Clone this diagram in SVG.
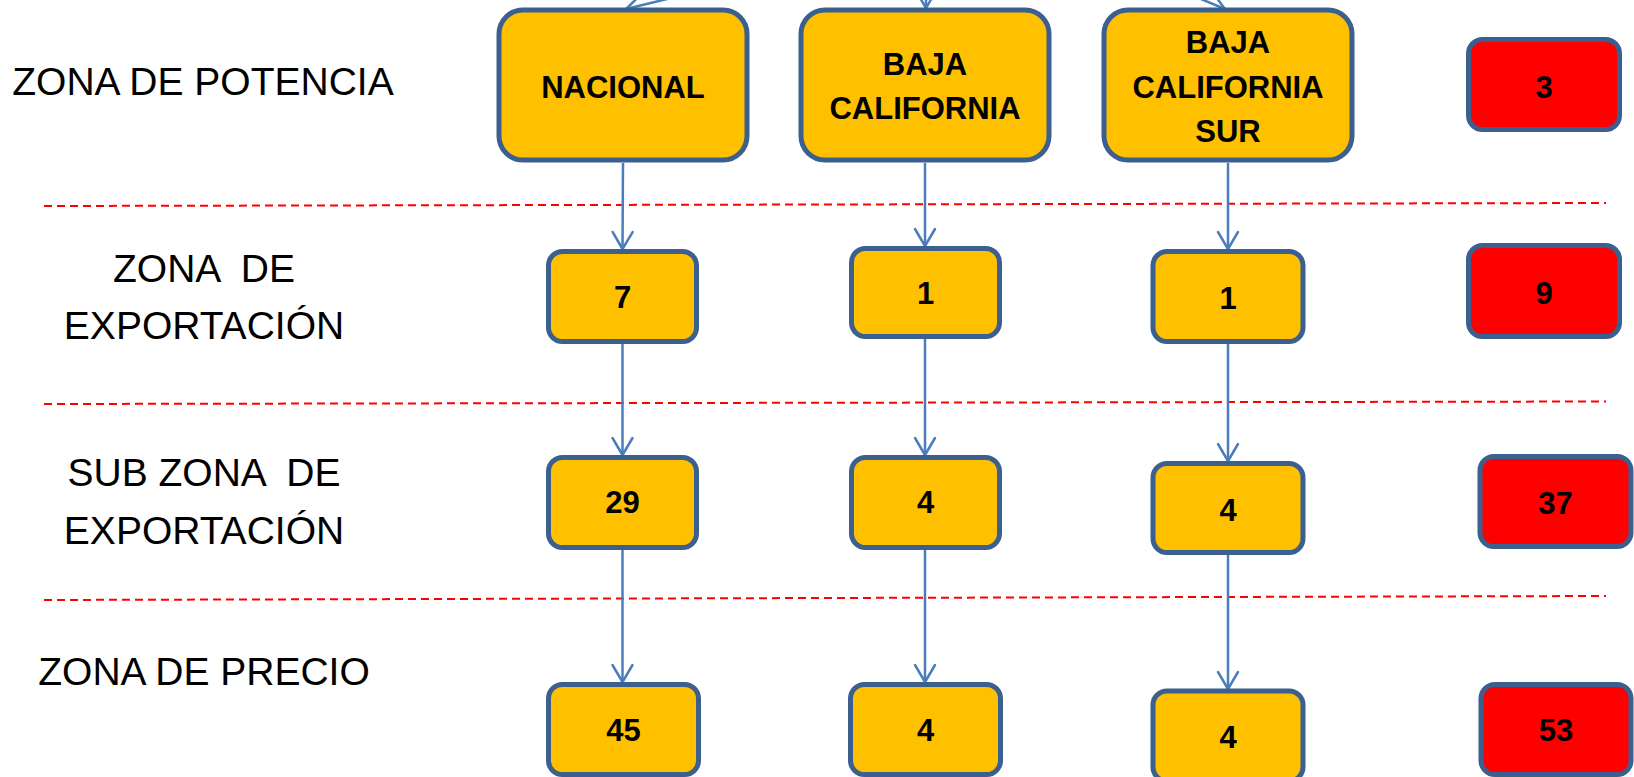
<svg xmlns="http://www.w3.org/2000/svg" width="1634" height="777" viewBox="0 0 1634 777">
<style>
.lbl{font-family:"Liberation Sans",Arial,sans-serif;font-size:39px;fill:#000;text-anchor:middle;white-space:pre}
.nt{font-family:"Liberation Sans",Arial,sans-serif;font-size:31px;font-weight:bold;fill:#000;text-anchor:middle}
.o{fill:#FFC000;stroke:#3B5F8E;stroke-width:5}
.r{fill:#FF0000;stroke:#3B5F8E;stroke-width:5}
.c{stroke:#4A7EBB;stroke-width:2.5;fill:none;marker-end:url(#arr)}
.d{stroke:#FF0000;stroke-width:2;stroke-dasharray:8 5;fill:none}
</style>
<defs>
<marker id="arr" markerUnits="userSpaceOnUse" markerWidth="22" markerHeight="24" viewBox="0 0 22 24" refX="19" refY="12" orient="auto" overflow="visible">
<path d="M2,2 L19,12 L2,22" fill="none" stroke="#4A7EBB" stroke-width="2.5" stroke-linecap="round" stroke-linejoin="round"/>
</marker>
</defs>
<rect width="1634" height="777" fill="#fff"/>
<g id="separators">
<line class="d" x1="44" y1="206" x2="1606" y2="203"/>
<line class="d" x1="44" y1="404" x2="1606" y2="401.5"/>
<line class="d" x1="44" y1="600" x2="1606" y2="596"/>
</g>
<g id="labels">
<text class="lbl" x="203" y="95">ZONA DE POTENCIA</text>
<text class="lbl" x="204" y="282">ZONA  DE</text>
<text class="lbl" x="204" y="339">EXPORTACIÓN</text>
<text class="lbl" x="204" y="486">SUB ZONA  DE</text>
<text class="lbl" x="204" y="544">EXPORTACIÓN</text>
<text class="lbl" x="204" y="685">ZONA DE PRECIO</text>
</g>
<g id="connectors">
<line class="c" x1="700" y1="-9" x2="626" y2="9"/>
<line class="c" x1="926" y1="-30" x2="926" y2="8"/>
<line class="c" x1="1160" y1="-18" x2="1225" y2="9"/>
<line class="c" x1="623" y1="163" x2="622.5" y2="249"/>
<line class="c" x1="622.5" y1="344" x2="622.5" y2="455"/>
<line class="c" x1="622.5" y1="549" x2="622.5" y2="682"/>
<line class="c" x1="925" y1="163" x2="925" y2="246"/>
<line class="c" x1="925" y1="338" x2="925" y2="455"/>
<line class="c" x1="925" y1="549" x2="925" y2="682"/>
<line class="c" x1="1228" y1="163" x2="1228" y2="249"/>
<line class="c" x1="1228" y1="344" x2="1228" y2="461"/>
<line class="c" x1="1228" y1="555" x2="1228" y2="689"/>
</g>
<g id="n-nacional"><rect class="o" x="499" y="10" width="248" height="150" rx="24"/><text class="nt" x="623" y="98">NACIONAL</text></g>
<g id="n-bc"><rect class="o" x="801" y="10" width="248" height="150" rx="24"/><text class="nt" x="925" y="75">BAJA</text><text class="nt" x="925" y="119">CALIFORNIA</text></g>
<g id="n-bcs"><rect class="o" x="1104" y="10" width="248" height="150" rx="24"/><text class="nt" x="1228" y="53">BAJA</text><text class="nt" x="1228" y="98">CALIFORNIA</text><text class="nt" x="1228" y="142">SUR</text></g>
<g id="n-total-pot"><rect class="r" x="1468.5" y="39.5" width="151" height="90" rx="14"/><text class="nt" x="1544" y="98">3</text></g>
<g id="n-nac-exp"><rect class="o" x="548.5" y="251.5" width="148" height="90" rx="14"/><text class="nt" x="622.5" y="308">7</text></g>
<g id="n-bc-exp"><rect class="o" x="851.5" y="248.5" width="148" height="88" rx="14"/><text class="nt" x="925.5" y="304">1</text></g>
<g id="n-bcs-exp"><rect class="o" x="1153" y="251.5" width="150" height="90" rx="14"/><text class="nt" x="1228" y="309">1</text></g>
<g id="n-total-exp"><rect class="r" x="1468.5" y="245.5" width="151" height="91" rx="14"/><text class="nt" x="1544" y="304">9</text></g>
<g id="n-nac-sub"><rect class="o" x="548.5" y="457.5" width="148" height="90" rx="14"/><text class="nt" x="622.5" y="513">29</text></g>
<g id="n-bc-sub"><rect class="o" x="851.5" y="457.5" width="148" height="90" rx="14"/><text class="nt" x="925.5" y="513">4</text></g>
<g id="n-bcs-sub"><rect class="o" x="1153" y="463.5" width="150" height="89" rx="14"/><text class="nt" x="1228" y="521">4</text></g>
<g id="n-total-sub"><rect class="r" x="1480" y="456.5" width="151" height="90" rx="14"/><text class="nt" x="1555.5" y="514">37</text></g>
<g id="n-nac-pre"><rect class="o" x="548.5" y="684.5" width="150" height="90" rx="14"/><text class="nt" x="623.5" y="741">45</text></g>
<g id="n-bc-pre"><rect class="o" x="850.5" y="684.5" width="150" height="90" rx="14"/><text class="nt" x="925.5" y="741">4</text></g>
<g id="n-bcs-pre"><rect class="o" x="1153" y="691" width="150" height="90" rx="14"/><text class="nt" x="1228" y="748">4</text></g>
<g id="n-total-pre"><rect class="r" x="1481" y="684.5" width="150" height="90" rx="14"/><text class="nt" x="1556" y="741">53</text></g>
</svg>
